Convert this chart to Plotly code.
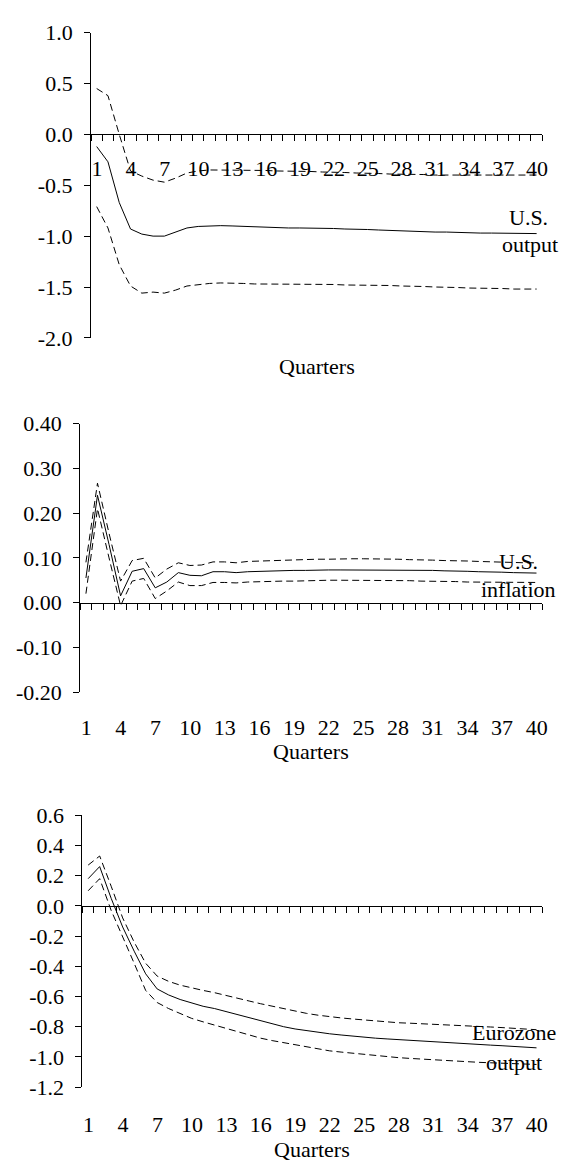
import plotly.graph_objects as go

W, H = 574, 1174

quarters = list(range(1, 41))

# Panel 1: U.S. output
us_output_mid = [-0.12, -0.27, -0.67, -0.93, -0.98, -1.00, -1.00, -0.96, -0.92, -0.905,
                 -0.90, -0.897, -0.90, -0.905, -0.91, -0.915, -0.915, -0.92, -0.92, -0.92,
                 -0.925, -0.925, -0.93, -0.93, -0.935, -0.94, -0.945, -0.95, -0.95, -0.955,
                 -0.96, -0.96, -0.965, -0.965, -0.97, -0.97, -0.97, -0.975, -0.975, -0.975]
us_output_hi = [0.45, 0.38, 0.0, -0.36, -0.41, -0.45, -0.47, -0.43, -0.38, -0.36,
                -0.35, -0.35, -0.35, -0.355, -0.355, -0.355, -0.36, -0.36, -0.36, -0.365,
                -0.37, -0.37, -0.375, -0.38, -0.38, -0.385, -0.39, -0.39, -0.395, -0.395,
                -0.40, -0.40, -0.40, -0.40, -0.40, -0.40, -0.40, -0.40, -0.40, -0.40]
us_output_lo = [-0.71, -0.92, -1.28, -1.49, -1.56, -1.55, -1.56, -1.53, -1.49, -1.475,
                -1.465, -1.46, -1.46, -1.465, -1.47, -1.47, -1.47, -1.47, -1.47, -1.475,
                -1.475, -1.475, -1.48, -1.48, -1.48, -1.485, -1.485, -1.49, -1.49, -1.495,
                -1.50, -1.50, -1.505, -1.51, -1.51, -1.515, -1.515, -1.52, -1.52, -1.52]

# Panel 2: U.S. inflation
us_infl_mid = [0.055, 0.24, 0.13, 0.015, 0.07, 0.076, 0.033, 0.046, 0.067, 0.061,
               0.06, 0.069, 0.069, 0.067, 0.069, 0.070, 0.071, 0.071, 0.072, 0.072,
               0.073, 0.073, 0.073, 0.073, 0.073, 0.073, 0.073, 0.073, 0.072, 0.072,
               0.072, 0.071, 0.071, 0.070, 0.069, 0.069, 0.068, 0.067, 0.067, 0.066]
us_infl_hi = [0.09, 0.267, 0.155, 0.048, 0.094, 0.099, 0.055, 0.075, 0.089, 0.083,
              0.084, 0.091, 0.091, 0.089, 0.092, 0.093, 0.094, 0.095, 0.096, 0.096,
              0.097, 0.097, 0.098, 0.098, 0.098, 0.098, 0.097, 0.097, 0.096, 0.096,
              0.095, 0.094, 0.094, 0.093, 0.092, 0.091, 0.090, 0.090, 0.089, 0.089]
us_infl_lo = [0.02, 0.21, 0.10, -0.007, 0.048, 0.054, 0.009, 0.026, 0.046, 0.038,
              0.038, 0.045, 0.045, 0.044, 0.046, 0.047, 0.047, 0.048, 0.048, 0.049,
              0.049, 0.050, 0.050, 0.050, 0.050, 0.050, 0.049, 0.049, 0.049, 0.048,
              0.048, 0.047, 0.047, 0.046, 0.046, 0.046, 0.045, 0.045, 0.045, 0.045]

# Panel 3: Eurozone output
ez_output_mid = [0.18, 0.26, 0.05, -0.14, -0.30, -0.45, -0.55, -0.59, -0.62, -0.645,
                 -0.665, -0.68, -0.70, -0.725, -0.745, -0.765, -0.785, -0.80, -0.815, -0.827,
                 -0.837, -0.847, -0.855, -0.863, -0.871, -0.876, -0.881, -0.886, -0.891, -0.896,
                 -0.90, -0.905, -0.91, -0.914, -0.918, -0.922, -0.926, -0.93, -0.935, -0.94]
ez_output_hi = [0.27, 0.33, 0.13, -0.08, -0.24, -0.38, -0.465, -0.50, -0.525, -0.545,
                -0.56, -0.575, -0.595, -0.615, -0.63, -0.648, -0.665, -0.683, -0.70, -0.712,
                -0.724, -0.735, -0.742, -0.749, -0.756, -0.763, -0.769, -0.774, -0.777, -0.780,
                -0.783, -0.787, -0.790, -0.794, -0.798, -0.802, -0.806, -0.81, -0.815, -0.82]
ez_output_lo = [0.10, 0.18, -0.03, -0.20, -0.38, -0.56, -0.64, -0.68, -0.715, -0.745,
                -0.768, -0.79, -0.812, -0.835, -0.857, -0.876, -0.892, -0.906, -0.918, -0.932,
                -0.946, -0.96, -0.968, -0.976, -0.983, -0.99, -0.998, -1.005, -1.01, -1.015,
                -1.02, -1.024, -1.029, -1.033, -1.036, -1.039, -1.042, -1.045, -1.047, -1.05]

y_ticks_1 = [1.0, 0.5, 0.0, -0.5, -1.0, -1.5, -2.0]
y_ticks_2 = [0.40, 0.30, 0.20, 0.10, 0.00, -0.10, -0.20]
y_ticks_3 = [0.6, 0.4, 0.2, 0.0, -0.2, -0.4, -0.6, -0.8, -1.0, -1.2]

FONT = "Liberation Serif, Times New Roman, DejaVu Serif, serif"
FS = 22

panels = [
    dict(mid=us_output_mid, hi=us_output_hi, lo=us_output_lo, yt=y_ticks_1, fmt="{:.1f}",
         x0=92, x1=548, ytop=21, ybot=333, xlab_standoff=8,
         labels=[("U.S.", 534, 210), ("output", 536, 238), ("Quarters", 320, 362)]),
    dict(mid=us_infl_mid, hi=us_infl_hi, lo=us_infl_lo, yt=y_ticks_2, fmt="{:.2f}",
         x0=81, x1=548, ytop=420.7, ybot=694.8, xlab_standoff=99,
         labels=[("U.S.", 524, 561), ("inflation", 524, 590), ("Quarters", 314.5, 756)]),
    dict(mid=ez_output_mid, hi=ez_output_hi, lo=ez_output_lo, yt=y_ticks_3, fmt="{:.1f}",
         x0=83.3, x1=548, ytop=820.7, ybot=1098.5, xlab_standoff=193,
         labels=[("Eurozone", 519, 1043), ("output", 519, 1073), ("Quarters", 315.5, 1162)]),
]

fig = go.Figure()
layout = dict(width=W, height=H, margin=dict(l=0, r=0, t=0, b=0, pad=0),
              paper_bgcolor="white", plot_bgcolor="white", showlegend=False,
              font=dict(family=FONT, size=FS, color="black"), annotations=[])

boundaries = [q - 0.5 for q in quarters] + [quarters[-1] + 0.5]
xtext = [str(int(b + 0.5)) if (int(b + 0.5) % 3 == 1 and b + 0.5 <= 40) else "" for b in boundaries]

for i, p in enumerate(panels, start=1):
    sfx = "" if i == 1 else str(i)
    xa, ya = "x" + sfx, "y" + sfx
    ymin, ymax = min(p["yt"]), max(p["yt"])
    for series, dash in ((p["hi"], "7px,4px"), (p["mid"], "solid"), (p["lo"], "7px,4px")):
        fig.add_trace(go.Scatter(x=quarters, y=series, mode="lines", xaxis=xa, yaxis=ya,
                                 line=dict(color="black", width=1, dash=dash),
                                 hoverinfo="skip"))
    zero_px = p["ytop"] + (ymax - 0) / (ymax - ymin) * (p["ybot"] - p["ytop"])
    catw = (p["x1"] - p["x0"]) / 40.0
    layout["xaxis" + sfx] = dict(
        domain=[p["x0"] / W, p["x1"] / W], range=[0.5, 40.5], anchor="free",
        position=1 - zero_px / H, showgrid=False, zeroline=False,
        showline=True, linecolor="black", linewidth=1,
        tickmode="array", tickvals=boundaries, ticktext=xtext,
        ticks="outside", ticklen=6, tickwidth=1, tickcolor="black",
        ticklabelshift=int(round(catw / 2)), ticklabelstandoff=p["xlab_standoff"],
        tickfont=dict(family=FONT, size=FS, color="black"))
    layout["yaxis" + sfx] = dict(
        domain=[1 - p["ybot"] / H, 1 - p["ytop"] / H], range=[ymin, ymax],
        anchor=xa, showgrid=False, zeroline=False,
        showline=True, linecolor="black", linewidth=1,
        tickmode="array", tickvals=p["yt"],
        ticktext=[p["fmt"].format(v).replace("\u2212", "-") for v in p["yt"]],
        ticks="outside", ticklen=6, tickwidth=1, tickcolor="black",
        ticklabelstandoff=7,
        tickfont=dict(family=FONT, size=FS, color="black"))
    for text, tx, ty in p["labels"]:
        layout["annotations"].append(dict(
            text=text, x=tx / W, y=1 - ty / H, xref="paper", yref="paper",
            xanchor="center", yanchor="middle", showarrow=False,
            font=dict(family=FONT, size=FS, color="black")))

fig.update_layout(**layout)
fig.write_html("out.html", config={"displayModeBar": False, "staticPlot": True},
               post_script="document.body.style.margin='0';document.body.style.overflow='hidden';")
